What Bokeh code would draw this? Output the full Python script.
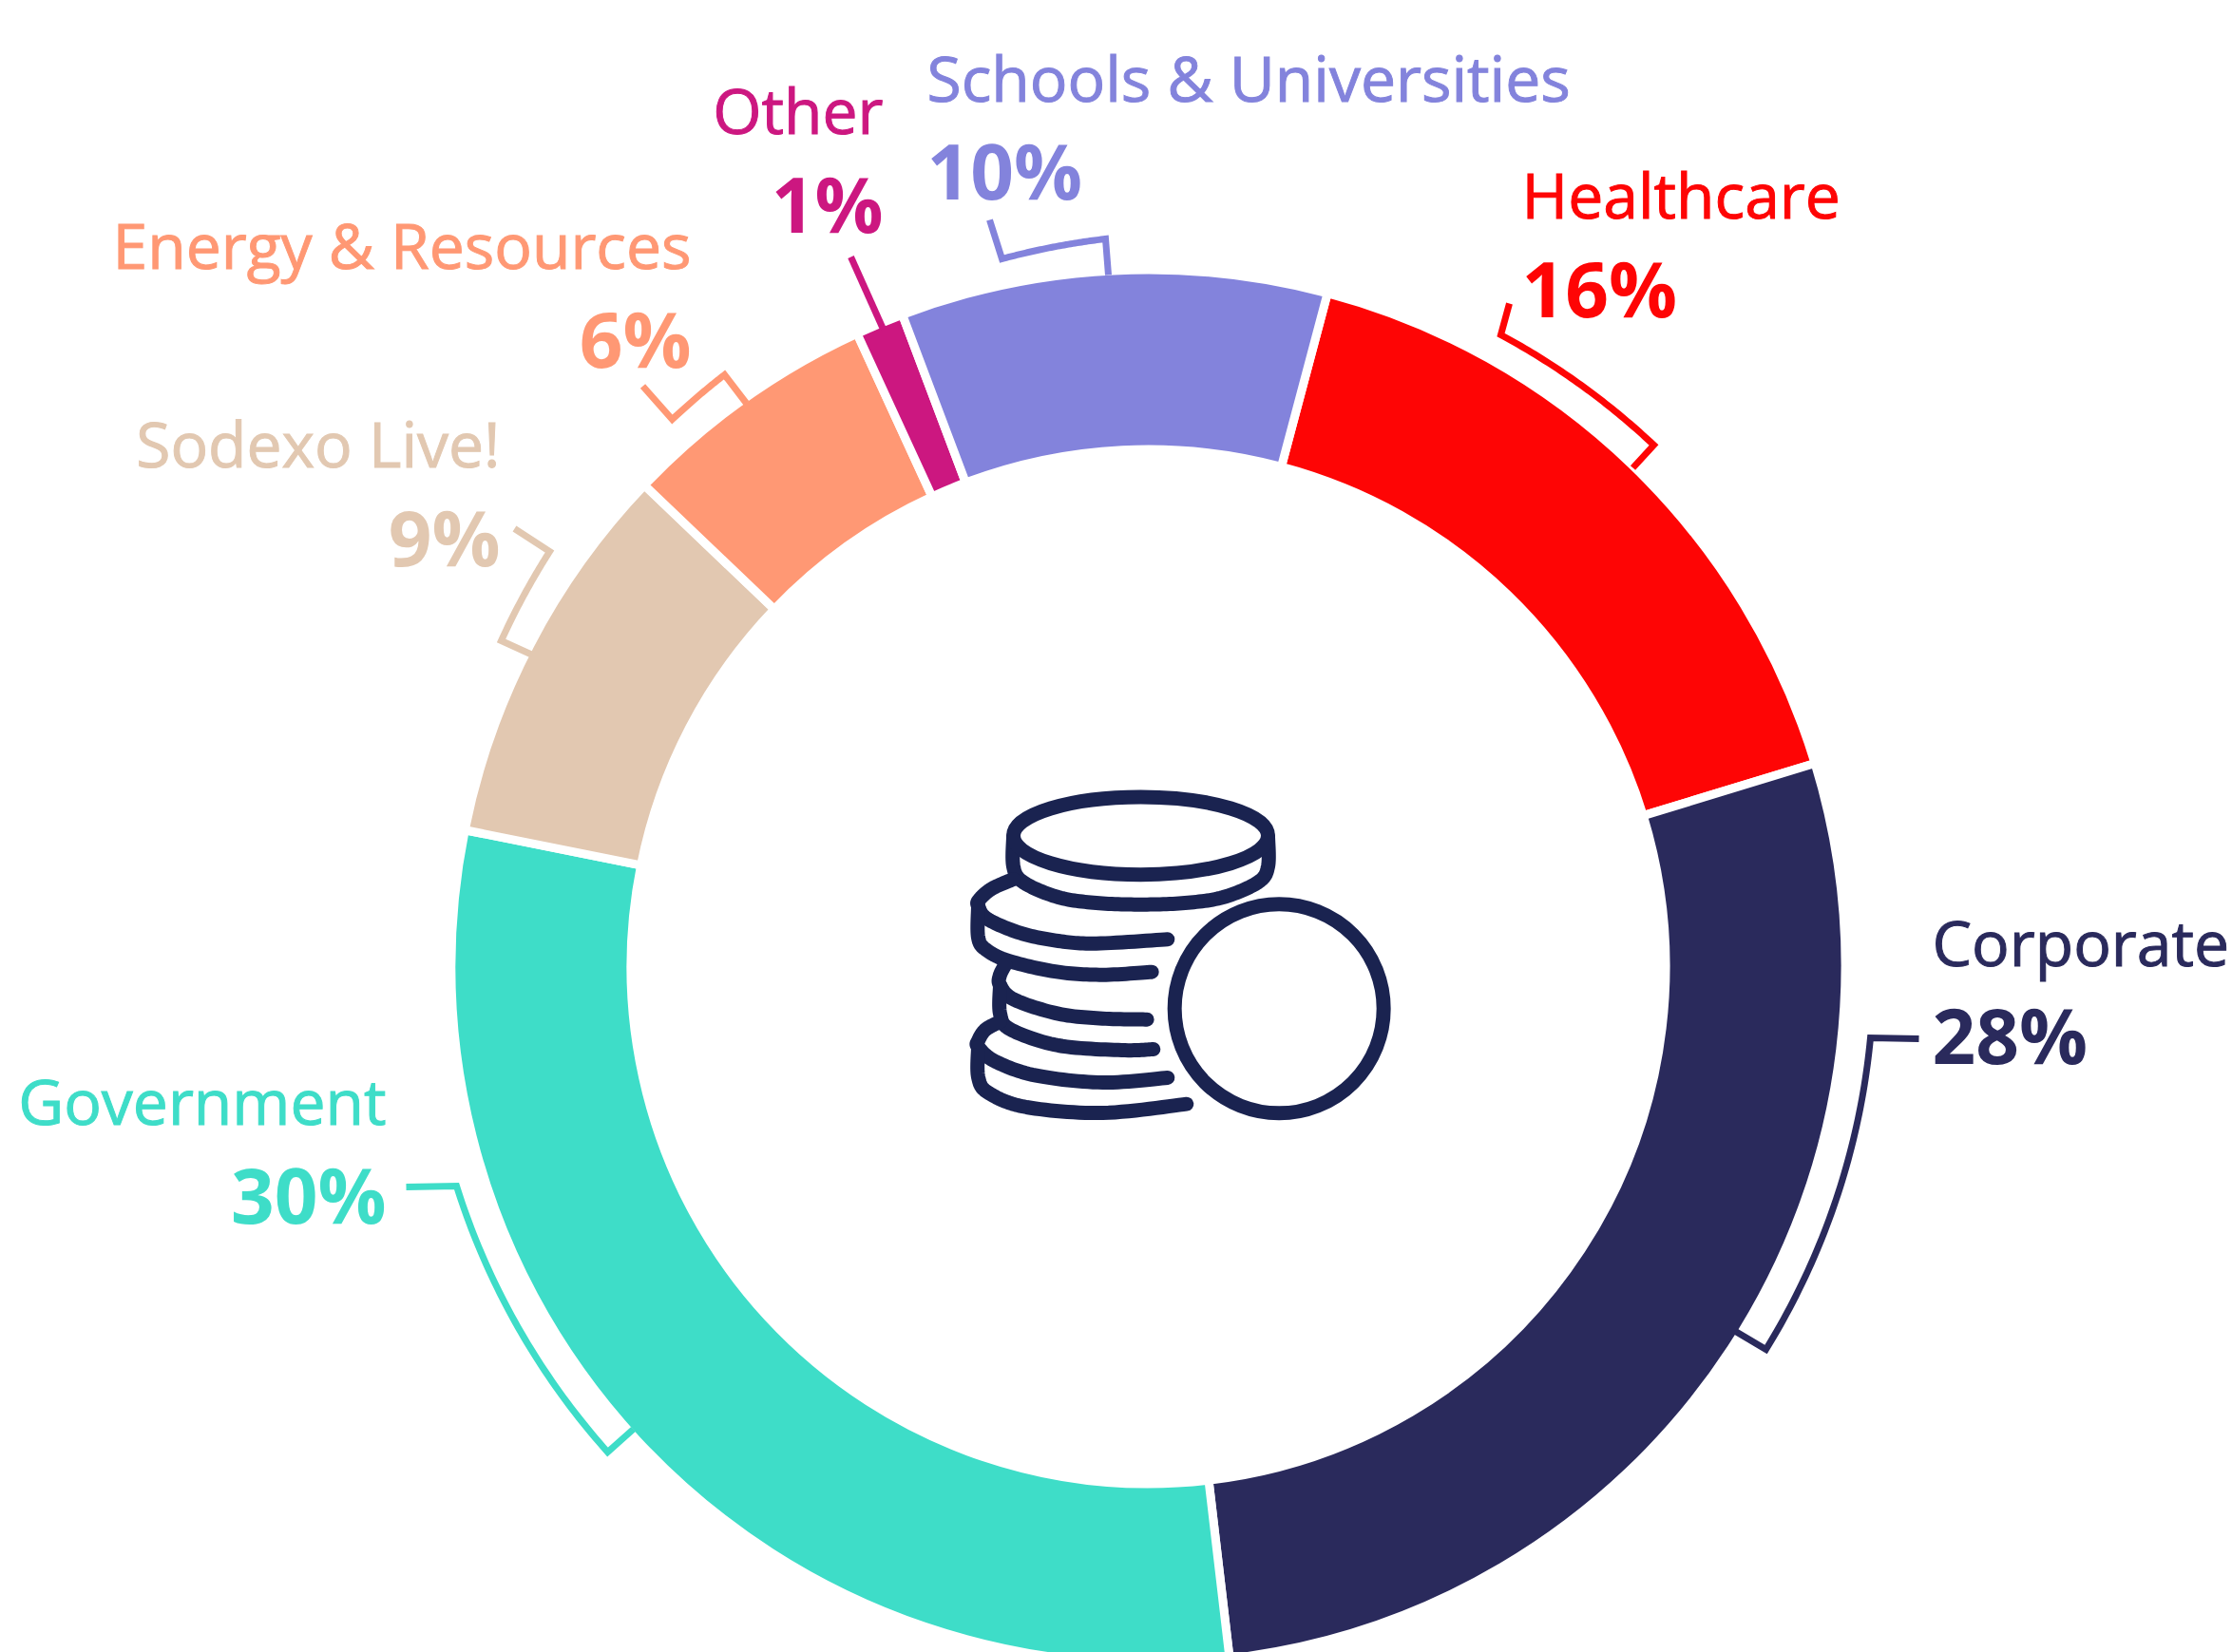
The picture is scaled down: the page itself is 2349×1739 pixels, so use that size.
import math
from bokeh.plotting import figure
from bokeh.models import Range1d
from bokeh.core.properties import value
from bokeh.embed import file_html
from bokeh.resources import INLINE

# ---- data ----
categories = ["Healthcare", "Corporate", "Government", "Sodexo Live!",
              "Energy & Resources", "Other", "Schools & Universities"]
shares = [16.15, 27.85, 30, 9, 6, 1.12, 9.88]  # slice sizes
share_labels = ["16%", "28%", "30%", "9%", "6%", "1%", "10%"]
colors = ["#FE0505", "#2A2A5C", "#3EDDC8", "#E2C8B1", "#FF9874", "#CC1780", "#8383DC"]
START_CLOCKWISE_FROM_NORTH = 14.9

# ---- layout (reference pixels) ----
REF_W, REF_H = 2349, 1739
W, H = 2349, 1739
CX, CY = 1208, 1017
R_OUT, R_IN, GAP = 729, 549, 9
NAME_PX, PCT_PX = 66, 80
BASE_SHIFT = 0.385  # SVG text sits this many em below the requested baseline
ICON = "#1A2350"

label_x = [1601, 2033, 406, 526, 727, 929, 975]
name_y = [229, 1016, 1183, 491, 282, 140, 106]
pct_y = [333, 1119, 1287, 595, 386, 244, 209]
align = ["left", "left", "right", "right", "right", "right", "left"]

# leader: tick start, corner, arc end, tip on the ring
leaders = [
    [(1588, 319), (1579, 352), (1740, 468), (1718, 492)],
    [(2019, 1093), (1968, 1092), (1858, 1420), (1826, 1401)],
    [(427, 1249), (480, 1248), (639, 1528), (666, 1504)],
    [(541, 556), (578, 580), (527, 674), (560, 689)],
    [(676, 406), (707, 441), (762, 394), (785, 424)],
    None,
    [(1041, 231), (1054, 272), (1163, 251), (1166, 289)],
]
other_leader = [(895, 270), (929, 346)]


def Y(y):
    return REF_H - y


p = figure(width=W, height=H, output_backend="svg", toolbar_location=None,
           x_range=Range1d(0, W), y_range=Range1d(0, H),
           x_axis_type=None, y_axis_type=None, min_border=0,
           background_fill_color="white", border_fill_color="white",
           outline_line_color=None)
p.grid.visible = False

# ring
t = START_CLOCKWISE_FROM_NORTH
for s, c in zip(shares, colors):
    t1 = t + s * 3.6
    p.annular_wedge(x=CX, y=Y(CY), inner_radius=R_IN - GAP / 2, outer_radius=R_OUT + GAP / 2,
                    start_angle=math.radians(90 - t1), end_angle=math.radians(90 - t),
                    fill_color=c, line_color="white", line_width=GAP)
    t = t1


def polar_arc(a, b, n=48):
    ax, ay = a[0] - CX, a[1] - CY
    bx, by = b[0] - CX, b[1] - CY
    ta, tb = math.atan2(ay, ax), math.atan2(by, bx)
    d = (tb - ta + math.pi) % (2 * math.pi) - math.pi
    ra, rb = math.hypot(ax, ay), math.hypot(bx, by)
    pts = []
    for i in range(n + 1):
        f = i / n
        r = ra + (rb - ra) * f
        th = ta + d * f
        pts.append((CX + r * math.cos(th), CY + r * math.sin(th)))
    return pts


# leaders
for lead, c in zip(leaders, colors):
    if lead is None:
        continue
    pts = [lead[0]] + polar_arc(lead[1], lead[2]) + [lead[3]]
    p.line([q[0] for q in pts], [Y(q[1]) for q in pts], line_color=c, line_width=7,
           line_join="miter", line_cap="butt")
p.line([q[0] for q in other_leader], [Y(q[1]) for q in other_leader],
       line_color=colors[5], line_width=7)

# labels
for i, name in enumerate(categories):
    p.text(x=[label_x[i]], y=[Y(name_y[i] - BASE_SHIFT * NAME_PX)], text=[name], text_color=colors[i],
           text_font=value("Open Sans"), text_font_size=f"{NAME_PX}px", text_align=align[i],
           text_baseline="alphabetic", text_outline_color=colors[i])
    p.text(x=[label_x[i]], y=[Y(pct_y[i] - BASE_SHIFT * PCT_PX)], text=[share_labels[i]], text_color=colors[i],
           text_font=value("Open Sans"), text_font_style="bold", text_font_size=f"{PCT_PX}px",
           text_align=align[i], text_baseline="alphabetic")

# centre icon, outlined in a 3x zoom of the reference
IX, IY, IS = 980, 800, 3.0


def catmull(points, steps=14):
    pts = [points[0]] + list(points) + [points[-1]]
    out = []
    for i in range(1, len(pts) - 2):
        p0, p1, p2, p3 = pts[i - 1], pts[i], pts[i + 1], pts[i + 2]
        for k in range(steps):
            u = k / steps
            out.append(tuple(
                0.5 * (2 * p1[j] + (p2[j] - p0[j]) * u
                       + (2 * p0[j] - 5 * p1[j] + 4 * p2[j] - p3[j]) * u * u
                       + (3 * p1[j] - p0[j] - 3 * p2[j] + p3[j]) * u ** 3)
                for j in range(2)))
    out.append(points[-1])
    return out


strokes = [
    [(258, 240), (258, 335), (290, 385), (400, 432), (520, 450), (660, 455), (800, 450), (920, 432), (1030, 385), (1062, 335), (1062, 240)],
    [(258, 375), (190, 405), (150, 440), (147, 460), (175, 500), (280, 545), (400, 570), (520, 578), (745, 565)],
    [(147, 460), (147, 560), (175, 600), (250, 635), (400, 668), (540, 677), (695, 668)],
    [(232, 645), (215, 680), (216, 710), (260, 755), (400, 800), (540, 815), (680, 818)],
    [(216, 710), (216, 800), (250, 850), (400, 900), (600, 915), (700, 912)],
    [(216, 825), (170, 850), (147, 885), (147, 905), (200, 950), (330, 995), (540, 1017), (745, 1002)],
    [(147, 905), (147, 1000), (180, 1050), (300, 1095), (540, 1113), (805, 1085)],
]
for s in strokes:
    pts = catmull(s)
    p.line([IX + q[0] / IS for q in pts], [Y(IY + q[1] / IS) for q in pts],
           line_color=ICON, line_width=15, line_cap="round", line_join="round")

p.ellipse(x=[IX + 660 / IS], y=[Y(IY + 238 / IS)], width=[804 / IS], height=[245 / IS],
          fill_color=None, line_color=ICON, line_width=15)
p.ellipse(x=[IX + 1097 / IS], y=[Y(IY + 784 / IS)], width=[660 / IS], height=[660 / IS],
          fill_color=None, line_color=ICON, line_width=15)

open("out.html", "w").write(file_html(p, INLINE))
